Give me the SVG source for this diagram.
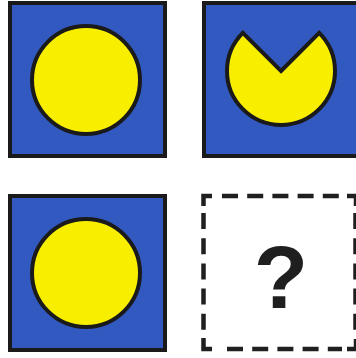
<svg xmlns="http://www.w3.org/2000/svg" width="356" height="358" viewBox="0 0 356 358">
<style>
.tile{fill:#3159c0;stroke:#1a1a1a;stroke-width:4}
.disc{fill:#f8ee00;stroke:#1a1a1a;stroke-width:4;stroke-linejoin:miter}
.dash{fill:none;stroke:#1f1f1f;stroke-width:4.5;stroke-dasharray:16 9.2}
.corner{fill:none;stroke:#1f1f1f;stroke-width:4.5;stroke-linejoin:miter}
.q{font-family:"Liberation Sans",Arial,sans-serif;font-weight:bold;font-size:89px;fill:#1f1f1f}
</style>
<rect width="356" height="358" fill="#ffffff"/>
<g id="tile-top-left">
<rect class="tile" x="10" y="3" width="155" height="153"/>
<circle class="disc" cx="86" cy="80" r="54"/>
</g>
<g id="tile-top-right">
<rect class="tile" x="204" y="3" width="155" height="153"/>
<path class="disc" d="M281,71 L319.2,32.8 A54,54 0 1,1 242.8,32.8 Z"/>
</g>
<g id="tile-bottom-left">
<rect class="tile" x="10" y="196" width="155" height="154"/>
<circle class="disc" cx="86" cy="273" r="54"/>
</g>
<g id="tile-bottom-right">
<path class="corner" d="M203.5,206 V196 H212"/>
<path class="corner" d="M203.5,338 V349 H212"/>
<path class="corner" d="M347,196 H356 V206"/>
<path class="corner" d="M347,349 H356 V339"/>
<line class="dash" x1="222" y1="196" x2="342" y2="196"/>
<line class="dash" x1="227" y1="349" x2="342" y2="349"/>
<line class="dash" x1="203.5" y1="213" x2="203.5" y2="334"/>
<line class="dash" x1="355.5" y1="213" x2="355.5" y2="334"/>
<text class="q" x="281" y="308" text-anchor="middle">?</text>
</g>
</svg>
